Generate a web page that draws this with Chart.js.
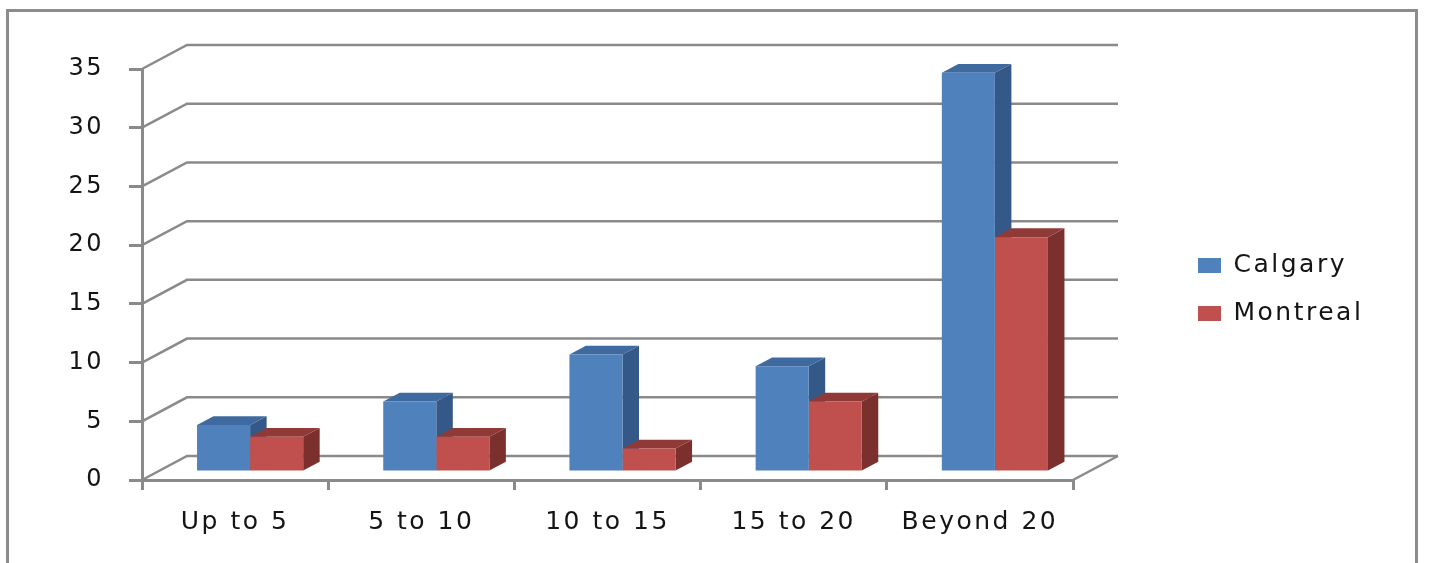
<!DOCTYPE html>
<html>
<head>
<meta charset="utf-8">
<script src="https://cdn.jsdelivr.net/npm/chart.js@4.4.1/dist/chart.umd.min.js"></script>
<style>
  html, body { margin: 0; padding: 0; background: #ffffff; }
  #wrap { width: 1429px; height: 563px; }
  canvas { display: block; }
</style>
</head>
<body>
<div id="wrap"><canvas id="chart" width="1429" height="563"></canvas></div>
<script>
// Years of residence, grouped by city
const categories = ['Up to 5', '5 to 10', '10 to 15', '15 to 20', 'Beyond 20'];
const calgary = [4, 6, 10, 9, 34];
const montreal = [3, 3, 2, 6, 20];
const seriesNames = ['Calgary', 'Montreal'];
const yMax = 35;
const yStep = 5;

// Styling
const FONT = 'DejaVu Sans';
const TEXT = '#141414';
const GRID = '#8a8a8a';
const FRONT_COLORS = ['#4f81bd', '#c0504d'];
const SIDE_COLORS = ['#345888', '#7c302e'];
const TOP_COLORS = ['#3f6a9f', '#903a37'];

// Oblique depth of the floor / back wall, and where the bars sit inside it
const DEPTH_X = 45, DEPTH_Y = -24;
const BAR_FRONT = 1 / 3, BAR_BACK = 0.7;
const PLOT_RIGHT = 1073;

const letterSpacing = {
  id: 'letterSpacing',
  beforeLayout(chart) { chart.ctx.letterSpacing = '2.5px'; },
  beforeDraw(chart) { chart.ctx.letterSpacing = '2.5px'; }
};

const frame = {
  id: 'frame',
  beforeDraw(chart) {
    const ctx = chart.ctx;
    ctx.save();
    ctx.strokeStyle = '#8c8c8c';
    ctx.lineWidth = 3;
    ctx.strokeRect(7.5, 10.5, 1409, 700);
    ctx.restore();
  }
};

const depth3d = {
  id: 'depth3d',
  beforeDatasetsDraw(chart) {
    const { ctx, chartArea: a, scales: { x, y } } = chart;
    ctx.save();
    ctx.strokeStyle = GRID;
    ctx.lineWidth = 2.5;
    // back wall gridlines with their slanted side-wall segment
    y.ticks.forEach(t => {
      const py = y.getPixelForValue(t.value);
      ctx.beginPath();
      ctx.moveTo(a.left, py);
      ctx.lineTo(a.left + DEPTH_X, py + DEPTH_Y);
      ctx.lineTo(a.right + DEPTH_X, py + DEPTH_Y);
      ctx.stroke();
    });
    // right edge of the floor
    const p0 = y.getPixelForValue(0);
    ctx.beginPath();
    ctx.moveTo(a.right, p0);
    ctx.lineTo(a.right + DEPTH_X, p0 + DEPTH_Y);
    ctx.stroke();

    // side and top faces of every bar
    const fx = DEPTH_X * BAR_FRONT, fy = DEPTH_Y * BAR_FRONT;
    const bx = DEPTH_X * (BAR_BACK - BAR_FRONT), by = DEPTH_Y * (BAR_BACK - BAR_FRONT);
    const metas = chart.data.datasets.map((d, i) => chart.getDatasetMeta(i));
    categories.forEach((c, i) => {
      metas.forEach((meta, di) => {
        const el = meta.data[i];
        if (!el) return;
        const p = el.getProps(['x', 'y', 'base', 'width'], true);
        const L = p.x - p.width / 2 + fx, R = p.x + p.width / 2 + fx;
        const T = p.y + fy, B = p.base + fy;
        ctx.fillStyle = SIDE_COLORS[di];
        ctx.beginPath();
        ctx.moveTo(R, T); ctx.lineTo(R + bx, T + by); ctx.lineTo(R + bx, B + by); ctx.lineTo(R, B);
        ctx.closePath(); ctx.fill();
        ctx.fillStyle = TOP_COLORS[di];
        ctx.beginPath();
        ctx.moveTo(L, T); ctx.lineTo(L + bx, T + by); ctx.lineTo(R + bx, T + by); ctx.lineTo(R, T);
        ctx.closePath(); ctx.fill();
      });
    });
    ctx.restore();
    // front faces are drawn by Chart.js, pushed into the floor depth
    ctx.save();
    ctx.translate(fx, fy);
  },
  afterDatasetsDraw(chart) {
    chart.ctx.restore();
  }
};

const chart = new Chart(document.getElementById('chart'), {
  type: 'bar',
  data: {
    labels: categories,
    datasets: [
      { label: seriesNames[0], data: calgary, backgroundColor: FRONT_COLORS[0], borderWidth: 0 },
      { label: seriesNames[1], data: montreal, backgroundColor: FRONT_COLORS[1], borderWidth: 0 }
    ]
  },
  options: {
    responsive: false,
    animation: false,
    devicePixelRatio: 1,
    layout: { padding: { top: 39, bottom: 23, left: 0, right: 46 } },
    datasets: { bar: { categoryPercentage: 0.57, barPercentage: 1.0, clip: false } },
    plugins: {
      tooltip: { enabled: false },
      legend: {
        position: 'right',
        labels: {
          boxWidth: 23,
          boxHeight: 15,
          padding: 23,
          color: TEXT,
          font: { family: FONT, size: 25 }
        }
      }
    },
    scales: {
      x: {
        grid: {
          drawOnChartArea: false, drawTicks: true, tickLength: 10,
          tickColor: GRID, lineWidth: 3, offset: true
        },
        border: { display: true, color: GRID, width: 3 },
        ticks: { color: TEXT, font: { family: FONT, size: 25 }, padding: 17, maxRotation: 0 },
        afterFit(s) { s.height = 60; }
      },
      y: {
        min: 0, max: yMax,
        grid: { drawOnChartArea: false, drawTicks: true, tickLength: 13, tickColor: GRID, lineWidth: 3 },
        border: { display: true, color: GRID, width: 3 },
        ticks: { stepSize: yStep, color: TEXT, font: { family: FONT, size: 24 }, padding: 25 },
        afterFit(s) { s.width = 142; }
      },
      // empty bands that reserve room for the floor depth and the headroom
      gap: {
        type: 'linear', position: 'right', display: true,
        grid: { display: false }, border: { display: false }, ticks: { display: false },
        afterFit(s) { s.width = 102; }
      },
      head: {
        type: 'linear', axis: 'x', position: 'top', display: true,
        grid: { display: false }, border: { display: false }, ticks: { display: false },
        afterFit(s) { s.height = 30; }
      }
    }
  },
  plugins: [letterSpacing, frame, depth3d]
});

// keep the plot's right edge where the floor should end
const shift = PLOT_RIGHT - chart.chartArea.right;
if (Math.abs(shift) > 0.5) {
  chart.options.layout.padding.right -= shift;
  chart.update();
}
</script>
</body>
</html>
